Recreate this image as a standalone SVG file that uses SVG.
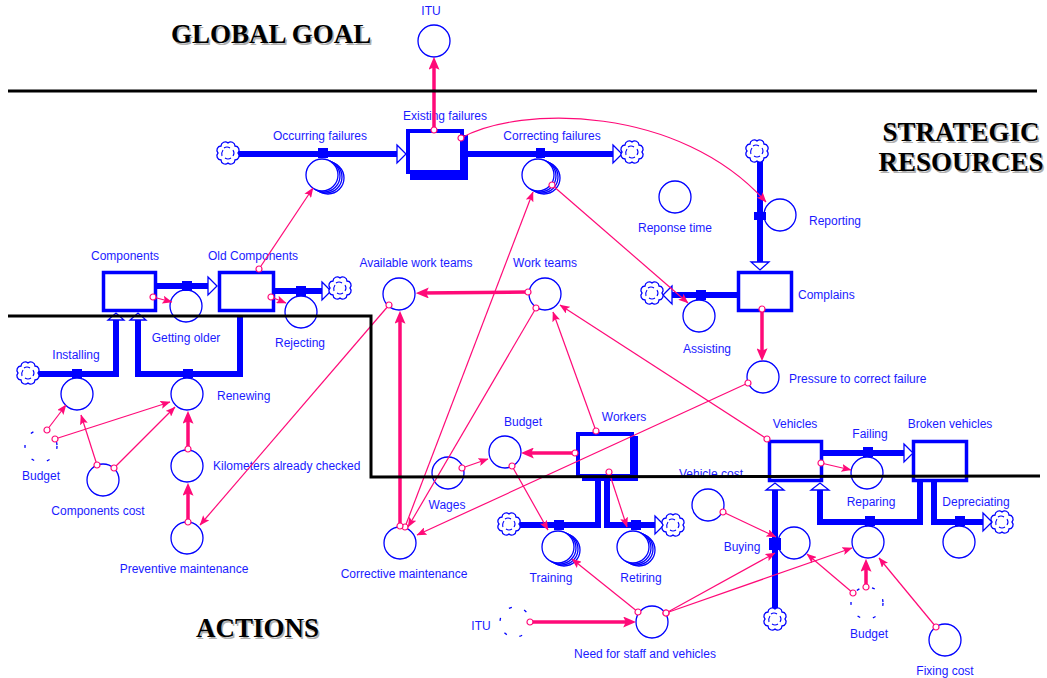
<svg xmlns="http://www.w3.org/2000/svg" xmlns:xlink="http://www.w3.org/1999/xlink" width="1047" height="678" viewBox="0 0 1047 678">
<style>
.lb{font-family:"Liberation Sans",Arial,sans-serif;font-size:12px;fill:#1a1aff}
.cv{fill:#fff;stroke:#00f;stroke-width:1.3}
.gh{fill:none;stroke:#00f;stroke-width:1.3;stroke-dasharray:3 13}
.st{fill:#fff;stroke:#00f;stroke-width:3.5}
.pp{fill:none;stroke:#00f;stroke-width:6}
.vl{fill:#00f}
.ah{fill:#fff;stroke:#00f;stroke-width:1.3}
.lk{fill:none;stroke:#ff0a78;stroke-width:1.2;marker-start:url(#o);marker-end:url(#a)}
.lkt{fill:none;stroke:#ff0a78;stroke-width:3.5;marker-start:url(#o);marker-end:url(#A)}
.bd{stroke:#000;stroke-width:3;fill:none}
.tt{font-family:"Liberation Serif","Times New Roman",serif;font-weight:bold;font-size:27px;fill:#000}
.ts{font-family:"Liberation Serif","Times New Roman",serif;font-weight:bold;font-size:27px;fill:#b0b0b0}
.cl{fill:#fff;stroke:#00f;stroke-width:1.3}
.cs{fill:none;stroke:#00f;stroke-width:1.1}
</style>
<defs>
<marker id="a" markerUnits="userSpaceOnUse" markerWidth="10" markerHeight="8" viewBox="0 0 10 8" refX="9.5" refY="4" orient="auto"><path d="M0,0 L10,4 L0,8 L2,4 z" fill="#ff0a78"/></marker>
<marker id="A" markerUnits="userSpaceOnUse" markerWidth="13" markerHeight="11" viewBox="0 0 10 8" refX="6" refY="4" orient="auto" preserveAspectRatio="none"><path d="M0,0 L10,4 L0,8 L2,4 z" fill="#ff0a78"/></marker>
<marker id="o" markerUnits="userSpaceOnUse" markerWidth="8" markerHeight="8" viewBox="0 0 8 8" refX="4" refY="4"><circle cx="4" cy="4" r="3" fill="#fff" stroke="#ff0a78" stroke-width="1.2"/></marker>
<g id="cloud">
<path class="cl" d="M0,-10 a4.2,4.2 0 0 1 7,3 a4.2,4.2 0 0 1 3,7 a4.2,4.2 0 0 1 -3,7 a4.2,4.2 0 0 1 -7,3 a4.2,4.2 0 0 1 -7,-3 a4.2,4.2 0 0 1 -3,-7 a4.2,4.2 0 0 1 3,-7 a4.2,4.2 0 0 1 7,-3 z"/>
<path class="cs" d="M-4,-5 q3,-2 6,0 M5,-3 q2,3 0,6 M3,5 q-3,2 -6,0 M-6,3 q-1,-3 1,-6"/>
</g>
<g id="arr">
<circle class="cv" cx="6" cy="3" r="16"/>
<circle class="cv" cx="4" cy="2" r="16"/>
<circle class="cv" cx="2" cy="1" r="16"/>
<circle class="cv" cx="0" cy="0" r="16"/>
</g>
</defs>
<rect width="1047" height="678" fill="#fff"/>

<g id="titles">
<text class="ts" x="172.5" y="44.5">GLOBAL GOAL</text>
<text class="tt" x="171" y="43">GLOBAL GOAL</text>
<text class="ts" x="962.5" y="142.5" text-anchor="middle">STRATEGIC</text>
<text class="tt" x="961" y="141" text-anchor="middle">STRATEGIC</text>
<text class="ts" x="962.5" y="172.5" text-anchor="middle">RESOURCES</text>
<text class="tt" x="961" y="171" text-anchor="middle">RESOURCES</text>
<text class="ts" x="197.5" y="638.5">ACTIONS</text>
<text class="tt" x="196" y="637">ACTIONS</text>
</g>

<g id="itu">
<circle class="cv" cx="434" cy="41" r="16"/>
<text class="lb" x="431" y="15" text-anchor="middle">ITU</text>
</g>

<g id="existing-failures">
<rect class="vl" x="410" y="172" width="58" height="8"/>
<rect class="vl" x="462" y="135" width="6" height="45"/>
<rect x="408" y="131" width="54" height="41" fill="#fff" stroke="#00f" stroke-width="4"/>
<text class="lb" x="445" y="120" text-anchor="middle">Existing failures</text>
</g>

<g id="occurring-failures">
<line class="pp" x1="238" y1="154" x2="397" y2="154"/>
<polygon class="ah" points="397,145 406,154 397,163"/>
<use href="#cloud" transform="translate(228,153)"/>
<use href="#arr" x="322" y="175"/>
<rect class="vl" x="318" y="148" width="10" height="10"/>
<text class="lb" x="320" y="140" text-anchor="middle">Occurring failures</text>
</g>

<g id="correcting-failures">
<line class="pp" x1="468" y1="154" x2="613" y2="154"/>
<polygon class="ah" points="613,145 622,154 613,163"/>
<use href="#cloud" transform="translate(632,152)"/>
<use href="#arr" x="538" y="175"/>
<rect class="vl" x="536" y="148" width="9" height="10"/>
<text class="lb" x="552" y="140" text-anchor="middle">Correcting failures</text>
</g>

<g id="reponse-time">
<circle class="cv" cx="675" cy="197" r="16"/>
<text class="lb" x="675" y="232" text-anchor="middle">Reponse time</text>
</g>

<g id="reporting">
<line class="pp" x1="760" y1="160" x2="760" y2="262"/>
<polygon class="ah" points="751,262 769,262 760,270"/>
<use href="#cloud" transform="translate(757,151)"/>
<circle class="cv" cx="780" cy="215" r="16"/>
<rect class="vl" x="754" y="212" width="12" height="8"/>
<text class="lb" x="809" y="225">Reporting</text>
</g>

<g id="complains">
<rect class="st" x="738.5" y="272.5" width="53" height="38"/>
<text class="lb" x="798" y="299">Complains</text>
</g>

<g id="assisting">
<line class="pp" x1="737" y1="295" x2="672" y2="295"/>
<polygon class="ah" points="672,286 663,295 672,304"/>
<use href="#cloud" transform="translate(652,293)"/>
<circle class="cv" cx="699" cy="316" r="16"/>
<rect class="vl" x="696" y="290" width="10" height="10"/>
<text class="lb" x="707" y="353" text-anchor="middle">Assisting</text>
</g>

<g id="pressure">
<circle class="cv" cx="763" cy="377" r="16"/>
<text class="lb" x="789" y="383">Pressure to correct failure</text>
</g>

<g id="work-teams">
<circle class="cv" cx="545" cy="294" r="16"/>
<text class="lb" x="545" y="267" text-anchor="middle">Work teams</text>
</g>

<g id="available-work-teams">
<circle class="cv" cx="399" cy="294" r="16"/>
<text class="lb" x="416" y="267" text-anchor="middle">Available work teams</text>
</g>

<g id="components">
<rect class="st" x="103.5" y="272.5" width="52" height="38"/>
<text class="lb" x="125" y="260" text-anchor="middle">Components</text>
</g>

<g id="old-components">
<rect class="st" x="219.5" y="272.5" width="54" height="38"/>
<text class="lb" x="253" y="260" text-anchor="middle">Old Components</text>
</g>

<g id="getting-older">
<line class="pp" x1="157" y1="286" x2="208" y2="286"/>
<polygon class="ah" points="208,277 217,286 208,295"/>
<circle class="cv" cx="186" cy="306" r="16"/>
<rect class="vl" x="182" y="281" width="10" height="10"/>
<text class="lb" x="186" y="342" text-anchor="middle">Getting older</text>
</g>

<g id="rejecting">
<line class="pp" x1="275" y1="291" x2="322" y2="291"/>
<polygon class="ah" points="322,282 331,291 322,300"/>
<use href="#cloud" transform="translate(340,288)"/>
<circle class="cv" cx="301" cy="312" r="16"/>
<rect class="vl" x="296" y="286" width="10" height="10"/>
<text class="lb" x="300" y="347" text-anchor="middle">Rejecting</text>
</g>

<g id="installing">
<polyline class="pp" points="38,374 116,374 116,320"/>
<polygon class="ah" points="108,320 124,320 116,313"/>
<use href="#cloud" transform="translate(28,373)"/>
<circle class="cv" cx="77" cy="394" r="16"/>
<rect class="vl" x="72" y="369" width="10" height="9"/>
<text class="lb" x="76" y="359" text-anchor="middle">Installing</text>
</g>

<g id="renewing">
<polyline class="pp" points="240,316 240,374 138,374 138,320"/>
<polygon class="ah" points="130,320 146,320 138,313"/>
<circle class="cv" cx="187" cy="394" r="16"/>
<rect class="vl" x="183" y="369" width="10" height="9"/>
<text class="lb" x="217" y="400">Renewing</text>
</g>

<g id="budget-left">
<circle class="gh" cx="41" cy="446" r="16"/>
<text class="lb" x="41" y="480" text-anchor="middle">Budget</text>
</g>

<g id="components-cost">
<circle class="cv" cx="103" cy="480" r="16"/>
<text class="lb" x="98" y="515" text-anchor="middle">Components cost</text>
</g>

<g id="kilometers">
<circle class="cv" cx="187" cy="466" r="16"/>
<text class="lb" x="213" y="470">Kilometers already checked</text>
</g>

<g id="preventive">
<circle class="cv" cx="187" cy="538" r="16"/>
<text class="lb" x="184" y="573" text-anchor="middle">Preventive maintenance</text>
</g>

<g id="corrective">
<circle class="cv" cx="400" cy="543" r="16"/>
<text class="lb" x="404" y="578" text-anchor="middle">Corrective maintenance</text>
</g>

<g id="wages">
<circle class="cv" cx="448" cy="473" r="16"/>
<text class="lb" x="447" y="509" text-anchor="middle">Wages</text>
</g>

<g id="budget-center">
<circle class="cv" cx="505" cy="452" r="16"/>
<text class="lb" x="523" y="426" text-anchor="middle">Budget</text>
</g>

<g id="workers">
<rect class="vl" x="582" y="476" width="56" height="5"/>
<rect class="vl" x="632" y="436" width="6" height="45"/>
<rect x="578" y="434" width="54" height="42" fill="#fff" stroke="#00f" stroke-width="4"/>
<text class="lb" x="624" y="421" text-anchor="middle">Workers</text>
</g>

<g id="training">
<polyline class="pp" points="520,525 598,525 598,480"/>
<use href="#cloud" transform="translate(509,524)"/>
<use href="#arr" x="558" y="547"/>
<rect class="vl" x="554" y="520" width="10" height="10"/>
<text class="lb" x="551" y="582" text-anchor="middle">Training</text>
</g>

<g id="retiring">
<polyline class="pp" points="607,480 607,525 655,525"/>
<polygon class="ah" points="655,516 664,525 655,534"/>
<use href="#cloud" transform="translate(673,525)"/>
<use href="#arr" x="633" y="547"/>
<rect class="vl" x="631" y="520" width="10" height="10"/>
<text class="lb" x="641" y="582" text-anchor="middle">Retiring</text>
</g>

<g id="itu-ghost">
<circle class="gh" cx="515" cy="622" r="15"/>
<text class="lb" x="481" y="630" text-anchor="middle">ITU</text>
</g>

<g id="need">
<circle class="cv" cx="652" cy="622" r="16"/>
<text class="lb" x="645" y="658" text-anchor="middle">Need for staff and vehicles</text>
</g>

<g id="vehicles">
<rect class="st" x="769.5" y="441.5" width="52" height="39"/>
<text class="lb" x="795" y="428" text-anchor="middle">Vehicles</text>
</g>

<g id="broken-vehicles">
<rect class="st" x="913.5" y="441.5" width="53" height="39"/>
<text class="lb" x="950" y="428" text-anchor="middle">Broken vehicles</text>
</g>

<g id="failing">
<line class="pp" x1="823" y1="453" x2="904" y2="453"/>
<polygon class="ah" points="904,444 913,453 904,462"/>
<circle class="cv" cx="867" cy="473" r="16"/>
<rect class="vl" x="863" y="447" width="10" height="10"/>
<text class="lb" x="870" y="438" text-anchor="middle">Failing</text>
</g>

<g id="reparing">
<polyline class="pp" points="920,482 920,522 820,522 820,490"/>
<polygon class="ah" points="811,490 829,490 820,483"/>
<circle class="cv" cx="868" cy="542" r="16"/>
<rect class="vl" x="865" y="516" width="10" height="10"/>
<text class="lb" x="871" y="506" text-anchor="middle">Reparing</text>
</g>

<g id="depreciating">
<polyline class="pp" points="934,482 934,522 983,522"/>
<polygon class="ah" points="983,513 992,522 983,531"/>
<use href="#cloud" transform="translate(1002,522)"/>
<circle class="cv" cx="959" cy="542" r="16"/>
<rect class="vl" x="955" y="516" width="10" height="10"/>
<text class="lb" x="976" y="506" text-anchor="middle">Depreciating</text>
</g>

<g id="vehicle-cost">
<circle class="cv" cx="708" cy="505" r="16"/>
<text class="lb" x="711" y="478" text-anchor="middle">Vehicle cost</text>
</g>

<g id="buying">
<line class="pp" x1="775" y1="608" x2="775" y2="490"/>
<polygon class="ah" points="766,490 784,490 775,483"/>
<use href="#cloud" transform="translate(775,619)"/>
<circle class="cv" cx="794" cy="543" r="16"/>
<rect class="vl" x="769" y="538" width="12" height="12"/>
<text class="lb" x="742" y="551" text-anchor="middle">Buying</text>
</g>

<g id="budget-right">
<circle class="gh" cx="867" cy="603" r="16"/>
<text class="lb" x="869" y="638" text-anchor="middle">Budget</text>
</g>

<g id="fixing-cost">
<circle class="cv" cx="945" cy="640" r="16"/>
<text class="lb" x="945" y="675" text-anchor="middle">Fixing cost</text>
</g>

<g id="connectors">
<path class="lk" d="M259,269 L313,188"/>
<path class="lk" d="M405,527 L533,192"/>
<path class="lk" d="M552,185 L688,303"/>
<path class="lk" d="M461,138 C520,105 680,105 766,202"/>
<path class="lk" d="M748,383 L417,535"/>
<path class="lk" d="M767,439 L560,305"/>
<path class="lk" d="M389,305 L200,525"/>
<path class="lk" d="M536,308 L408,527"/>
<path class="lk" d="M462,468 L488,459"/>
<path class="lk" d="M596,431 L553,312"/>
<path class="lk" d="M609,472 L627,527"/>
<path class="lk" d="M512,466 L548,530"/>
<path class="lk" d="M638,612 L572,559"/>
<path class="lk" d="M666,613 L775,553"/>
<path class="lk" d="M666,613 L852,548"/>
<path class="lk" d="M821,463 L851,470"/>
<path class="lk" d="M723,512 L776,537"/>
<path class="lk" d="M853,593 L807,554"/>
<path class="lk" d="M936,627 L879,558"/>
<path class="lk" d="M153,297 L172,302"/>
<path class="lk" d="M271,297 L286,303"/>
<path class="lk" d="M47,430 L66,405"/>
<path class="lk" d="M55,439 L170,402"/>
<path class="lk" d="M97,465 L81,415"/>
<path class="lk" d="M114,468 L175,407"/>
<path class="lkt" d="M434,130 L434,62"/>
<path class="lkt" d="M762,309 L762,356"/>
<path class="lkt" d="M528,292 L421,293"/>
<path class="lkt" d="M400,526 L400,316"/>
<path class="lkt" d="M575,453 L526,453"/>
<path class="lkt" d="M530,622 L631,622"/>
<path class="lkt" d="M866,587 L866,564"/>
<path class="lkt" d="M188,449 L188,416"/>
<path class="lkt" d="M188,522 L188,488"/>
</g>

<g id="boundaries">
<line class="bd" x1="8" y1="91" x2="1037" y2="91"/>
<polyline class="bd" points="8,316 371,316 371,477 1040,476"/>
</g>
</svg>
